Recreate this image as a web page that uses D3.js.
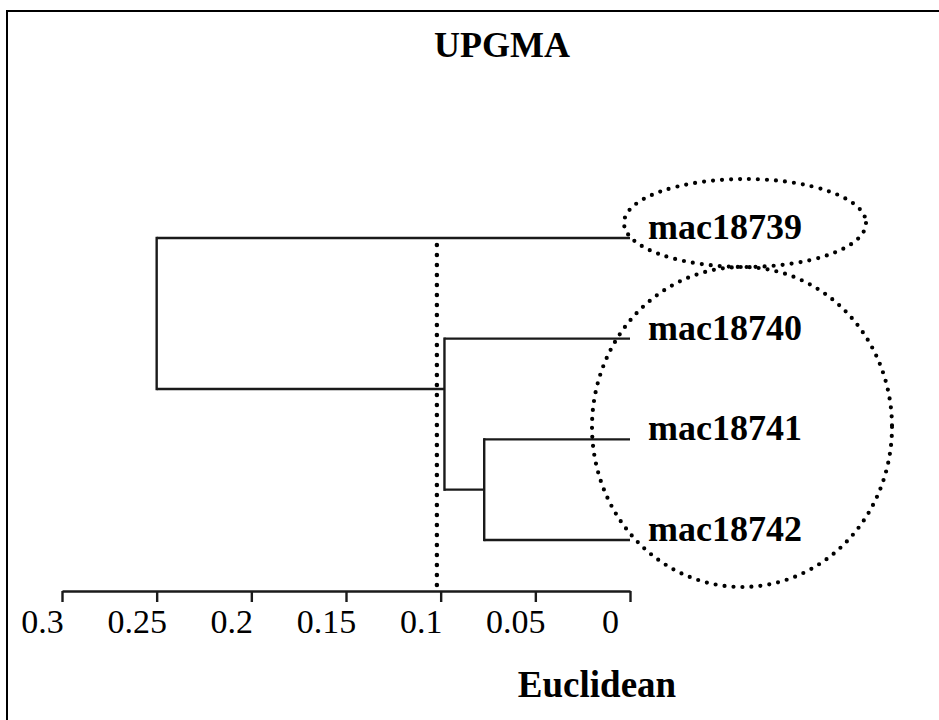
<!DOCTYPE html>
<html>
<head>
<meta charset="utf-8">
<script src="https://cdn.jsdelivr.net/npm/d3@7"></script>
<style>
  body { margin: 0; background: #fff; overflow: hidden; }
  svg { display: block; }
  text { font-family: "Liberation Serif", "Times New Roman", serif; fill: #000; }
</style>
</head>
<body>
<div id="chart"></div>
<script>
// leaves, top to bottom
var leaves = ["mac18739", "mac18740", "mac18741", "mac18742"];
// merges in UPGMA order, with the distance at which each one happens
var nodeNames = ["n1", "n2", "root"];
var nodeChildren = [["mac18741", "mac18742"], ["mac18740", "n1"], ["mac18739", "n2"]];
var nodeHeights = [0.077, 0.098, 0.25];
// cut-off line
var cutHeight = 0.102;
var tickValues = [0.3, 0.25, 0.2, 0.15, 0.1, 0.05, 0];

var W = 939, H = 720;

var svg = d3.select("#chart").append("svg")
    .attr("width", W).attr("height", H);

// outer frame (only top and left show)
svg.append("path")
    .attr("d", "M7," + H + "V11H" + W)
    .attr("fill", "none").attr("stroke", "#000").attr("stroke-width", 2);

var x = d3.scaleLinear().domain([0.3, 0]).range([62, 630]);
var y = d3.scaleLinear().domain([0, leaves.length - 1]).range([238, 540]);
var axisY = 591;

// positions of every node
var pos = {}, height = {}, firstLeaf = {};
leaves.forEach(function(d, i) { pos[d] = i; height[d] = 0; firstLeaf[d] = i; });
nodeNames.forEach(function(n, i) {
    var c = nodeChildren[i];
    height[n] = nodeHeights[i];
    firstLeaf[n] = firstLeaf[c[0]];
    // connector sits half way between the upper child and the next leaf below it
    pos[n] = (pos[c[0]] + firstLeaf[c[1]]) / 2;
});

var g = svg.append("g");

// branches
nodeNames.forEach(function(n, i) {
    var c = nodeChildren[i];
    var xn = x(height[n]);
    g.append("line")
        .attr("x1", xn).attr("x2", xn)
        .attr("y1", y(pos[c[0]])).attr("y2", y(pos[c[1]]))
        .attr("stroke", "#1a1a1a").attr("stroke-width", 2.4)
        .attr("stroke-linecap", "square");
    c.forEach(function(ch) {
        g.append("line")
            .attr("x1", xn).attr("x2", x(height[ch]))
            .attr("y1", y(pos[ch])).attr("y2", y(pos[ch]))
            .attr("stroke", "#1a1a1a").attr("stroke-width", 2.4);
    });
});

// leaf labels
g.selectAll("text.leaf").data(leaves).enter().append("text")
    .attr("class", "leaf")
    .attr("x", x(0) + 18)
    .attr("y", function(d) { return y(pos[d]) + 1; })
    .attr("font-size", 36).attr("font-weight", "bold")
    .text(function(d) { return d; });

// cut-off dotted line
svg.append("line")
    .attr("x1", x(cutHeight)).attr("x2", x(cutHeight))
    .attr("y1", 245).attr("y2", axisY)
    .attr("stroke", "#000").attr("stroke-width", 4.5)
    .attr("stroke-linecap", "round")
    .attr("stroke-dasharray", "0 10");

// dotted ellipses around groups
var groupBoxes = [
    {cx: 745, cy: 223, rx: 121, ry: 44},
    {cx: 742, cy: 427, rx: 150, ry: 160}
];
svg.selectAll("ellipse.grp").data(groupBoxes).enter().append("ellipse")
    .attr("class", "grp")
    .attr("cx", function(d) { return d.cx; }).attr("cy", function(d) { return d.cy; })
    .attr("rx", function(d) { return d.rx; }).attr("ry", function(d) { return d.ry; })
    .attr("fill", "none").attr("stroke", "#000").attr("stroke-width", 4.2)
    .attr("stroke-linecap", "round")
    .attr("stroke-dasharray", "0 9");

// axis
var axis = d3.axisBottom(x)
    .tickValues(tickValues)
    .tickSize(11)
    .tickSizeOuter(0)
    .tickFormat(function(d) { return String(d); });

var ax = svg.append("g")
    .attr("transform", "translate(0," + axisY + ")")
    .call(axis);
ax.select(".domain").attr("stroke", "#1a1a1a").attr("stroke-width", 2.4);
ax.selectAll(".tick line").attr("stroke", "#1a1a1a").attr("stroke-width", 2.4);
ax.selectAll(".tick text")
    .attr("y", 42).attr("dy", 0).attr("dx", -20)
    .attr("font-size", 34)
    .attr("font-family", "'Liberation Serif', 'Times New Roman', serif")
    .attr("fill", "#000");

// title
svg.append("text")
    .attr("x", 502).attr("y", 57)
    .attr("text-anchor", "middle")
    .attr("font-size", 36).attr("font-weight", "bold")
    .text("UPGMA");

// axis title
svg.append("text")
    .attr("x", 597).attr("y", 697)
    .attr("text-anchor", "middle")
    .attr("font-size", 37).attr("font-weight", "bold")
    .text("Euclidean");
</script>
</body>
</html>
